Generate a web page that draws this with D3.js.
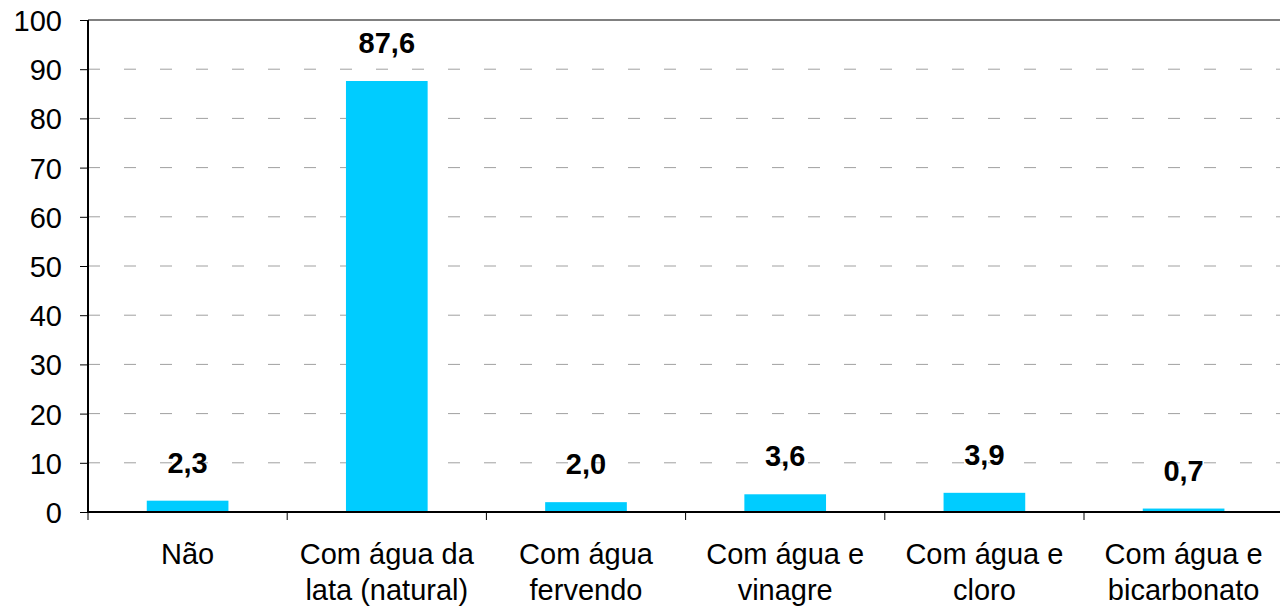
<!DOCTYPE html>
<html>
<head>
<meta charset="utf-8">
<script src="https://cdn.jsdelivr.net/npm/d3@7"></script>
<style>
  body { margin: 0; background: #fff; }
  svg { display: block; font-family: "Liberation Sans", Arial, sans-serif; }
</style>
</head>
<body>
<svg id="chart" width="1280" height="609"></svg>
<script>
const categories = [
  ["Não"],
  ["Com água da", "lata (natural)"],
  ["Com água", "fervendo"],
  ["Com água e", "vinagre"],
  ["Com água e", "cloro"],
  ["Com água e", "bicarbonato"],
];
const values = [2.3, 87.6, 2.0, 3.6, 3.9, 0.7];
const yTicks = [0, 10, 20, 30, 40, 50, 60, 70, 80, 90, 100];

const svg = d3.select("#chart");
const plotLeft = 88, plotTop = 20, plotBottom = 512;
const step = 199.2;
const plotRight = plotLeft + step * categories.length;
const fontSize = 29;

const x = d3.scaleBand()
  .domain(d3.range(categories.length))
  .range([plotLeft, plotRight])
  .paddingInner(0.59)
  .paddingOuter(0.295);

const y = d3.scaleLinear().domain([0, 100]).range([plotBottom, plotTop]);

// gridlines
svg.append("g")
  .selectAll("line")
  .data(yTicks.filter((d) => d > 0 && d < 100))
  .join("line")
  .attr("x1", plotLeft)
  .attr("x2", plotRight)
  .attr("y1", (d) => y(d))
  .attr("y2", (d) => y(d))
  .attr("stroke", "#a0a0a0")
  .attr("stroke-width", 1)
  .attr("stroke-dasharray", "12,24");

// top border
svg.append("line")
  .attr("x1", plotLeft).attr("x2", plotRight)
  .attr("y1", y(100)).attr("y2", y(100))
  .attr("stroke", "#808080").attr("stroke-width", 2);

// bars
svg.append("g")
  .selectAll("rect")
  .data(values)
  .join("rect")
  .attr("x", (d, i) => x(i))
  .attr("width", x.bandwidth())
  .attr("y", (d) => y(d))
  .attr("height", (d) => y(0) - y(d))
  .attr("fill", "#00ccff");

// value labels
svg.append("g")
  .selectAll("text")
  .data(values)
  .join("text")
  .attr("x", (d, i) => x(i) + x.bandwidth() / 2)
  .attr("y", (d) => y(d) - 28)
  .attr("text-anchor", "middle")
  .attr("font-size", fontSize)
  .attr("font-weight", "bold")
  .attr("fill", "#000")
  .text((d) => d.toFixed(1).replace(".", ","));

// y axis
const yAxis = svg.append("g")
  .attr("transform", `translate(${plotLeft},0)`)
  .call(d3.axisLeft(y).tickValues(yTicks).tickSize(8).tickPadding(18));
yAxis.select(".domain").attr("stroke", "#000").attr("stroke-width", 2)
  .attr("d", `M0,${plotTop}V${plotBottom}`);
yAxis.selectAll(".tick line").attr("stroke", "#000");
yAxis.selectAll(".tick text")
  .attr("font-size", fontSize)
  .attr("font-family", "Liberation Sans, Arial, sans-serif")
  .attr("dy", "0.36em")
  .attr("fill", "#000");

// x axis
const xAxisG = svg.append("g");
xAxisG.append("line")
  .attr("x1", plotLeft).attr("x2", plotRight)
  .attr("y1", plotBottom).attr("y2", plotBottom)
  .attr("stroke", "#000").attr("stroke-width", 2);
xAxisG.selectAll("line.tick")
  .data(d3.range(categories.length + 1))
  .join("line")
  .attr("class", "tick")
  .attr("x1", (i) => plotLeft + step * i)
  .attr("x2", (i) => plotLeft + step * i)
  .attr("y1", plotBottom)
  .attr("y2", plotBottom + 8)
  .attr("stroke", "#000");

const labels = xAxisG.selectAll("text")
  .data(categories)
  .join("text")
  .attr("text-anchor", "middle")
  .attr("font-size", fontSize)
  .attr("fill", "#000");
labels.selectAll("tspan")
  .data((d, i) => d.map((line) => ({ line, i })))
  .join("tspan")
  .attr("x", (d) => x(d.i) + x.bandwidth() / 2)
  .attr("y", (d, j) => 564 + j * 36)
  .text((d) => d.line);
</script>
</body>
</html>
